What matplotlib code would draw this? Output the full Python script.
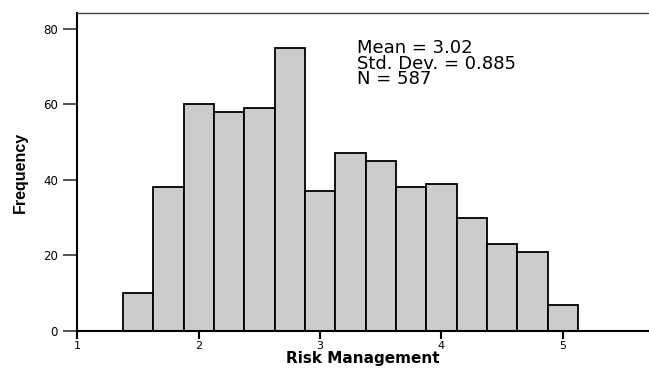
import numpy as np
import matplotlib
matplotlib.use("Agg")
import matplotlib.pyplot as plt

plt.rcParams["font.family"] = ["DejaVu Sans"]

# histogram bins (centres, width 0.25) and counts
bin_centres = [1.5, 1.75, 2.0, 2.25, 2.5, 2.75, 3.0, 3.25, 3.5, 3.75, 4.0, 4.25, 4.5, 4.75, 5.0]
counts = [10, 38, 60, 58, 59, 75, 37, 47, 45, 38, 39, 30, 23, 21, 7]
bin_width = 0.25
x_ticks = [1, 2, 3, 4, 5]
y_ticks = [0, 20, 40, 60, 80]
stats_text = "Mean = 3.02\nStd. Dev. = 0.885\nN = 587"

fig = plt.figure(figsize=(6.49, 3.70), dpi=100)
ax = fig.add_axes([0.1194, 0.1054, 0.8806, 0.8595])

ax.bar(bin_centres, counts, width=bin_width, color="#cccccc",
       edgecolor="black", linewidth=1.3, zorder=2)

ax.set_xlim(1, 5.711)
ax.set_ylim(0, 84.2)
ax.set_xticks(x_ticks)
ax.set_yticks(y_ticks)
ax.tick_params(axis="y", length=10, width=1.2, pad=4, labelsize=8.5, color="#333333")
ax.tick_params(axis="x", length=6, width=1.5, pad=1.5, labelsize=8)

ax.spines["right"].set_visible(False)
ax.spines["top"].set_linewidth(1.0)
ax.spines["top"].set_color("#444444")
ax.spines["left"].set_linewidth(1.5)
ax.spines["bottom"].set_linewidth(1.5)

ax.set_xlabel("Risk Management", fontsize=11, fontweight="bold", labelpad=0)
ax.set_ylabel("Frequency", fontsize=11.5, fontweight="bold", labelpad=11,
              family="Liberation Sans")

ax.text(3.30, 77.3, stats_text, fontsize=13, va="top", ha="left", linespacing=0.82)

fig.savefig("out.png", dpi=100)
